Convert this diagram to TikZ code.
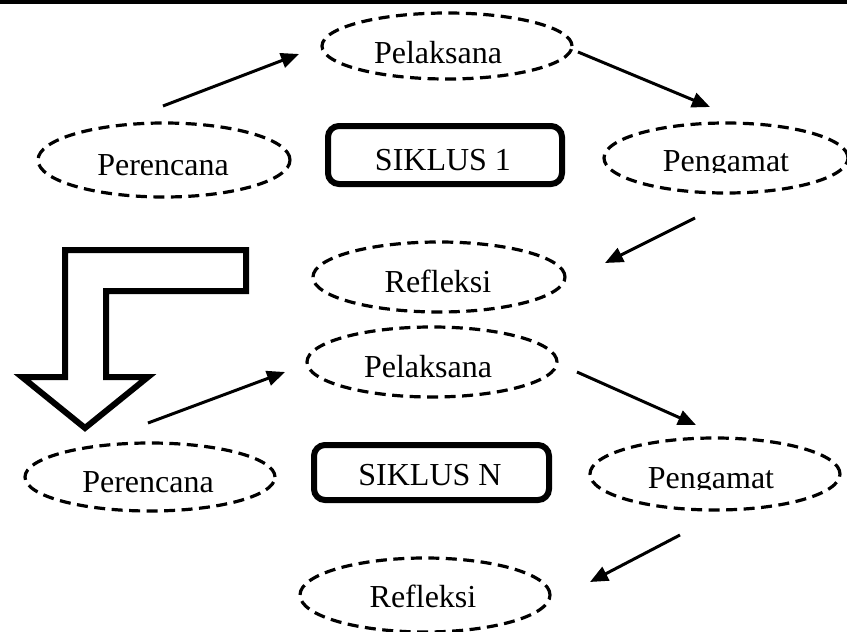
\documentclass[tikz,border=0pt]{standalone}
\usepackage{fontspec}
\setmainfont{Liberation Serif}
\usetikzlibrary{arrows.meta,shapes.geometric}
\begin{document}
\begin{tikzpicture}[x=1pt,y=-1pt,
 ell/.style={draw, ellipse, dash pattern=on 11pt off 6.5pt, line width=3.2pt, inner sep=0pt},
 txt/.style={inner sep=0pt, anchor=base, font=\fontsize{32}{36}\selectfont},
 cyc/.style={draw, line width=6pt, rounded corners=11pt, inner sep=0pt},
 arr/.style={line width=3pt, -{Triangle[length=18pt,width=15pt]}},
]
\useasboundingbox (0,0) rectangle (847,632);
% top rule
\coordinate (rl) at (0,2);
\coordinate (rr) at (847,2);
\draw[line width=4pt] (rl) -- (rr);

% ---- cycle 1 ----
\node[ell, minimum width=250pt, minimum height=66pt] (pel1) at (447,46) {};
\node[txt] (tpel1) at (438,63) {Pelaksana};
\node[ell, minimum width=252pt, minimum height=74pt] (per1) at (164,160) {};
\node[txt] (tper1) at (163,175) {Perencana};
\node[cyc, minimum width=234pt, minimum height=58pt] (s1) at (445,155) {};
\node[txt] (ts1) at (443,170) {SIKLUS 1};
\node[ell, minimum width=244pt, minimum height=70pt] (pen1) at (726,158) {};
\begin{scope}
\clip (600,100) rectangle (847,172);
\node[txt] (tpen1) at (726,171) {Pengamat};
\end{scope}
\node[ell, minimum width=252pt, minimum height=70pt] (ref1) at (439,277) {};
\node[txt] (tref1) at (438,292) {Refleksi};

% ---- cycle N ----
\node[ell, minimum width=250pt, minimum height=70pt] (pel2) at (432,362) {};
\node[txt] (tpel2) at (428,377) {Pelaksana};
\node[ell, minimum width=250pt, minimum height=68pt] (per2) at (150,477) {};
\node[txt] (tper2) at (148,492) {Perencana};
\node[cyc, minimum width=235pt, minimum height=55pt] (s2) at (431.5,472.5) {};
\node[txt] (ts2) at (430,485) {SIKLUS N};
\node[ell, minimum width=250pt, minimum height=72pt] (pen2) at (715,474) {};
\begin{scope}
\clip (580,420) rectangle (847,489);
\node[txt] (tpen2) at (711,488) {Pengamat};
\end{scope}
\node[ell, minimum width=250pt, minimum height=74pt] (ref2) at (425,595) {};
\node[txt] (tref2) at (423,607) {Refleksi};

% ---- arrows ----
\coordinate (a1s) at (163,106); \coordinate (a1e) at (299,54);
\coordinate (a2s) at (578,52);  \coordinate (a2e) at (710,107);
\coordinate (a3s) at (695,218); \coordinate (a3e) at (605,263);
\coordinate (a4s) at (148,423); \coordinate (a4e) at (285,372);
\coordinate (a5s) at (577,372); \coordinate (a5e) at (696,425);
\coordinate (a6s) at (680,535); \coordinate (a6e) at (590,582);
\draw[arr] (a1s) -- (a1e);
\draw[arr] (a2s) -- (a2e);
\draw[arr] (a3s) -- (a3e);
\draw[arr] (a4s) -- (a4e);
\draw[arr] (a5s) -- (a5e);
\draw[arr] (a6s) -- (a6e);

% ---- block arrow ----
\draw[line width=6pt, line join=miter] (65,250) -- (246,250) -- (246,291) -- (106,291) -- (106,377) -- (148,377) -- (85,428) -- (22,377) -- (65,377) -- cycle;
\end{tikzpicture}
\end{document}
